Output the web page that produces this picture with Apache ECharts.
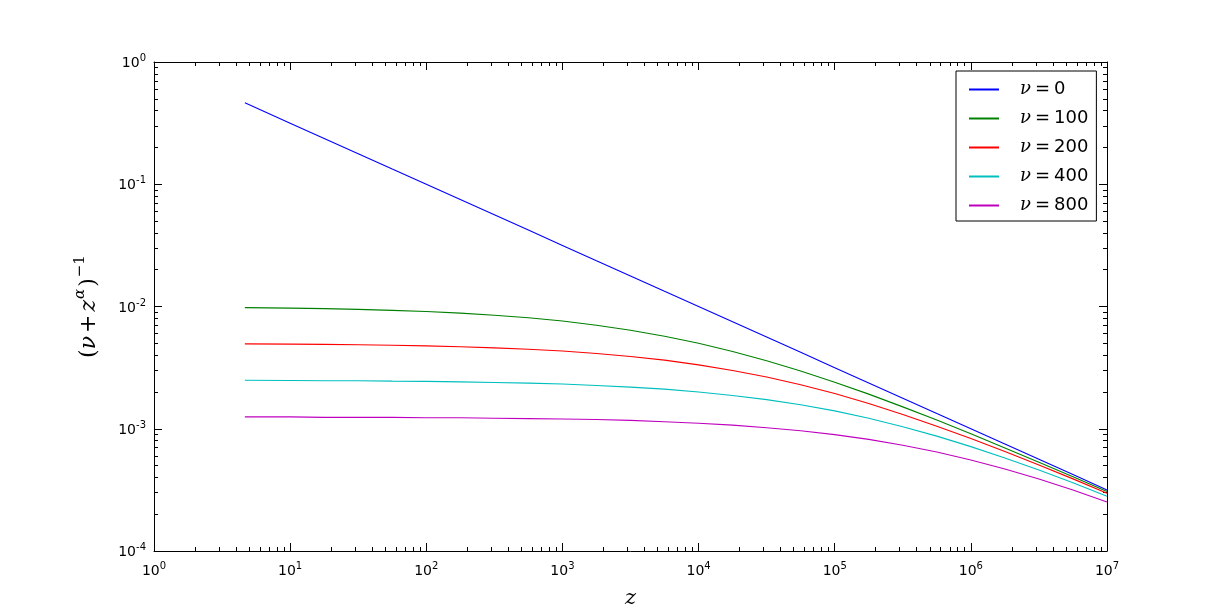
<!DOCTYPE html>
<html><head><meta charset="utf-8">
<script src="https://cdn.jsdelivr.net/npm/echarts@6/dist/echarts.min.js"></script>
<style>html,body{margin:0;padding:0;background:#fff}#c{width:1230px;height:612px}</style>
</head><body><div id="c"></div>
<script>
const zValues = [4.65, 10, 17.78, 31.62, 56.23, 100, 177.8, 316.2, 562.3, 1000, 1778, 3162, 5623, 10000, 17783, 31623, 56234, 100000, 177828, 316228, 562341, 1000000, 1778279, 3162278, 5623413, 10000000];
const nu0   = [0.464, 0.316, 0.237, 0.178, 0.133, 0.1, 0.075, 0.0562, 0.0422, 0.0316, 0.0237, 0.0178, 0.0133, 0.01, 0.0075, 0.00562, 0.00422, 0.00316, 0.00237, 0.00178, 0.00133, 0.001, 0.00075, 0.000562, 0.000422, 0.000316];
const nu100 = [0.00979, 0.00969, 0.0096, 0.00947, 0.0093, 0.00909, 0.00882, 0.00849, 0.00808, 0.0076, 0.00703, 0.0064, 0.00571, 0.005, 0.00428, 0.0036, 0.00297, 0.0024, 0.00192, 0.00151, 0.00118, 0.000909, 0.000697, 0.000532, 0.000405, 0.000307];
const nu200 = [0.00495, 0.00492, 0.0049, 0.00486, 0.00482, 0.00476, 0.00469, 0.00459, 0.00447, 0.00432, 0.00413, 0.0039, 0.00364, 0.00333, 0.003, 0.00265, 0.00229, 0.00194, 0.00161, 0.00131, 0.00105, 0.000833, 0.000652, 0.000506, 0.000389, 0.000297];
const nu400 = [0.00249, 0.00248, 0.00247, 0.00247, 0.00245, 0.00244, 0.00242, 0.00239, 0.00236, 0.00232, 0.00226, 0.00219, 0.00211, 0.002, 0.00187, 0.00173, 0.00157, 0.0014, 0.00122, 0.00104, 0.00087, 0.000714, 0.000577, 0.000459, 0.000361, 0.000281];
const nu800 = [0.00125, 0.00125, 0.00124, 0.00124, 0.00124, 0.00123, 0.00123, 0.00122, 0.00121, 0.0012, 0.00119, 0.00117, 0.00114, 0.00111, 0.00107, 0.00102, 0.000964, 0.000896, 0.000819, 0.000734, 0.000645, 0.000556, 0.000469, 0.000388, 0.000315, 0.000252];
const seriesNames = ['0', '100', '200', '400', '800'];
const seriesValues = [nu0, nu100, nu200, nu400, nu800];
const colors = ['#0000ff', '#008000', '#ff0000', '#00bfbf', '#bf00bf'];

const chart = echarts.init(document.getElementById('c'));
const tickFmt = v => '{b|10}{s|' + Math.round(Math.log10(v)) + '}';
const tickRich = {
  b: {fontFamily: 'DejaVu Sans', fontSize: 14, lineHeight: 17, color: '#000', verticalAlign: 'bottom'},
  s: {fontFamily: 'DejaVu Sans', fontSize: 10, lineHeight: 10, color: '#000', verticalAlign: 'top'}
};
const common = {
  type: 'log', logBase: 10,
  axisLine: {show: true, onZero: false, lineStyle: {color: '#000', width: 1}},
  axisTick: {show: true, inside: true, length: 8, lineStyle: {color: '#000'}},
  minorTick: {show: true, splitNumber: 9, length: 4, lineStyle: {color: '#000'}},
  splitLine: {show: false}
};
chart.setOption({
  animation: false,
  grid: {left: 154, right: 123, top: 62, bottom: 61, containLabel: false, outerBoundsMode: 'none'},
  xAxis: [
    Object.assign({}, common, {min: 1, max: 1e7, position: 'bottom',
      name: 'z', nameLocation: 'middle', nameGap: 37,
      nameTextStyle: {fontFamily: 'DejaVu Serif', fontStyle: 'italic', fontSize: 21, color: '#000'},
      axisLabel: {formatter: tickFmt, rich: tickRich, fontSize: 14, margin: 10}}),
    Object.assign({}, common, {min: 1, max: 1e7, position: 'top', axisLabel: {show: false}})
  ],
  yAxis: [
    Object.assign({}, common, {min: 1e-4, max: 1, position: 'left',
      name: '{t|(}{i|ν}{p|+}{i|z}{si|α}{t|)}{sp|−1}', nameLocation: 'middle', nameGap: 54, nameRotate: 90,
      nameTextStyle: {color: '#000', rich: {
        t: {fontFamily: 'DejaVu Serif', fontSize: 22, lineHeight: 27, color: '#000', verticalAlign: 'bottom'},
        p: {fontFamily: 'DejaVu Serif', fontSize: 22, lineHeight: 27, color: '#000', verticalAlign: 'bottom', padding: [0, 3, 0, 3]},
        i: {fontFamily: 'DejaVu Serif', fontStyle: 'italic', fontSize: 22, lineHeight: 27, color: '#000', verticalAlign: 'bottom'},
        si: {fontFamily: 'DejaVu Serif', fontStyle: 'italic', fontSize: 15, lineHeight: 15, color: '#000', verticalAlign: 'top', padding: [0, 2, 0, 1]},
        sp: {fontFamily: 'DejaVu Serif', fontSize: 15, lineHeight: 13, color: '#000', verticalAlign: 'top', padding: [0, 0, 0, 1]}
      }},
      axisLabel: {formatter: tickFmt, rich: tickRich, fontSize: 14, margin: 8}}),
    Object.assign({}, common, {min: 1e-4, max: 1, position: 'right', axisLabel: {show: false}})
  ],
  legend: {
    left: 956, top: 71, orient: 'vertical',
    backgroundColor: '#fff', borderColor: '#000', borderWidth: 1, borderRadius: 0,
    padding: [8, 8, 5, 13], itemGap: 8, itemWidth: 30, itemHeight: 2, icon: 'rect',
    data: seriesNames.map(n => 'ν=' + n),
    formatter: name => '{i|ν}{e|=}{t|' + name.slice(2) + '}',
    textStyle: {lineHeight: 21, rich: {
      i: {fontFamily: 'DejaVu Serif', fontStyle: 'italic', fontSize: 18, lineHeight: 21, color: '#000', padding: [0, 0, 0, 16]},
      e: {fontFamily: 'DejaVu Sans', fontSize: 18, lineHeight: 21, color: '#000', padding: [0, 4, 0, 4]},
      t: {fontFamily: 'DejaVu Sans', fontSize: 18, lineHeight: 21, color: '#000'}
    }}
  },
  series: seriesValues.map((vals, k) => ({
    name: 'ν=' + seriesNames[k], type: 'line', xAxisIndex: 0, yAxisIndex: 0,
    data: zValues.map((z, i) => [z, vals[i]]),
    showSymbol: false, smooth: false,
    lineStyle: {color: colors[k], width: 1.1}, itemStyle: {color: colors[k]}
  }))
});
</script></body></html>
